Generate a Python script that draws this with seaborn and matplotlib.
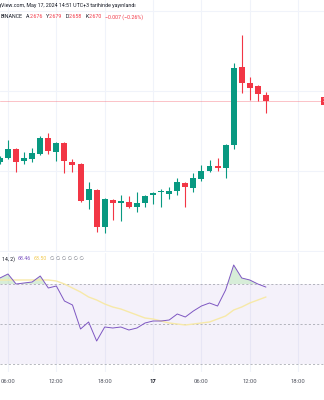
import numpy as np
import pandas as pd
import matplotlib
matplotlib.use("Agg")
import matplotlib.pyplot as plt
import seaborn as sns

# Hourly candles; hour 0 = 16 May 00:00 (UTC+3)
hours = list(range(5, 39))
opens = [2.609, 2.613, 2.622, 2.610, 2.612, 2.617, 2.633, 2.619, 2.628, 2.609,
         2.607, 2.571, 2.581, 2.544, 2.571, 2.568, 2.569, 2.564, 2.568, 2.576,
         2.579, 2.577, 2.580, 2.588, 2.583, 2.592, 2.600, 2.605, 2.603, 2.626,
         2.704, 2.688, 2.685, 2.676]
highs = [2.615, 2.631, 2.623, 2.619, 2.623, 2.635, 2.638, 2.629, 2.629, 2.612,
         2.608, 2.589, 2.582, 2.573, 2.572, 2.576, 2.575, 2.579, 2.576, 2.579,
         2.582, 2.584, 2.593, 2.589, 2.598, 2.606, 2.611, 2.613, 2.627, 2.708,
         2.736, 2.694, 2.686, 2.679]
lows = [2.607, 2.612, 2.599, 2.607, 2.609, 2.616, 2.617, 2.610, 2.598, 2.599,
        2.569, 2.562, 2.539, 2.538, 2.551, 2.550, 2.563, 2.559, 2.564, 2.567,
        2.564, 2.572, 2.576, 2.564, 2.579, 2.590, 2.599, 2.600, 2.593, 2.622,
        2.678, 2.671, 2.670, 2.658]
closes = [2.613, 2.622, 2.609, 2.613, 2.618, 2.633, 2.620, 2.628, 2.610, 2.606,
          2.570, 2.582, 2.544, 2.572, 2.568, 2.570, 2.564, 2.568, 2.575, 2.578,
          2.5795, 2.580, 2.589, 2.584, 2.593, 2.600, 2.605, 2.603, 2.626, 2.703,
          2.688, 2.683, 2.677, 2.670]

# RSI(14) and its moving average
rsi = [73.0, 75.0, 70.0, 70.5, 71.0, 74.0, 68.0, 69.0, 61.5, 59.5,
       47.5, 51.0, 41.5, 48.5, 48.0, 48.5, 47.0, 48.0, 50.5, 51.5,
       51.5, 52.0, 55.0, 53.5, 56.5, 59.0, 60.5, 59.0, 67.0, 79.5,
       73.0, 72.0, 70.0, 68.46]
rsi_ma = [72.0, 72.0, 72.0, 72.0, 72.0, 72.0, 72.0, 71.5, 70.0, 68.0,
          66.0, 63.5, 62.0, 60.0, 58.5, 57.5, 56.0, 54.5, 53.0, 52.5,
          51.5, 50.5, 50.0, 49.5, 50.0, 50.5, 51.0, 52.5, 54.0, 57.0,
          58.5, 60.5, 62.0, 63.50]

tick_hours = [6, 12, 18, 24, 30, 36, 42]
tick_labels = ["06:00", "12:00", "18:00", "17", "06:00", "12:00", "18:00"]

UP = "#089981"
DOWN = "#F23645"
RSI_COLOR = "#7E57C2"
MA_COLOR = "#F7E9A8"
TEXT = "#131722"
GRID = "#F0F3FA"
FS = 3.8

sns.set_theme(style="white")
plt.rcParams["font.family"] = ["Roboto", "DejaVu Sans"]

W, H = 324, 400
fig = plt.figure(figsize=(W / 100, H / 100), dpi=100)
fig.patch.set_facecolor("white")


def px_rect(x0, y0, x1, y1):
    return [x0 / W, 1 - y1 / H, (x1 - x0) / W, (y1 - y0) / H]


xlim = (6 + (0 - 8) / 8.06, 6 + (W - 8) / 8.06)

# ---- price pane ----
ax = fig.add_axes(px_rect(0, 0, W, 252))
ax.set_xlim(*xlim)
ax.set_ylim(2.519, 2.771)
for lvl in [2.52, 2.60, 2.68, 2.76]:
    ax.axhline(lvl, color=GRID, lw=0.8, zorder=0)
for t in tick_hours:
    ax.axvline(t, color=GRID, lw=0.8, zorder=0)

df = pd.DataFrame({"hour": hours, "open": opens, "high": highs,
                   "low": lows, "close": closes})
df["color"] = np.where(df["close"] >= df["open"], UP, DOWN)
body = (df["close"] - df["open"]).abs().clip(lower=0.0012)
bottom = df[["open", "close"]].min(axis=1)
ax.vlines(df["hour"], df["low"], df["high"], colors=df["color"], lw=0.8, zorder=2)
ax.bar(df["hour"], body, bottom=bottom, width=0.74, color=df["color"],
       linewidth=0, zorder=3)

last_close = closes[-1]
ax.axhline(last_close, color=DOWN, lw=0.7, alpha=0.3, zorder=1)
ax.set_axis_off()

# ---- RSI pane ----
ax2 = fig.add_axes(px_rect(0, 253, W, 372))
ax2.set_xlim(*xlim)
ax2.set_ylim(26, 85.5)
for t in tick_hours:
    ax2.axvline(t, color=GRID, lw=0.8, zorder=0)
ax2.axhspan(30, 70, color=RSI_COLOR, alpha=0.08, lw=0, zorder=0)
for lvl in [70, 50, 30]:
    ax2.axhline(lvl, color="#9598A1", lw=0.6, ls=(0, (2.5, 2.5)), alpha=0.8, zorder=1)

rsi_df = pd.DataFrame({"hour": hours, "RSI": rsi, "MA": rsi_ma})
r = np.array(rsi)
ax2.fill_between(hours, 70, r, where=r > 70, interpolate=True,
                 color="#4CAF50", alpha=0.22, lw=0, zorder=1)
sns.lineplot(data=rsi_df, x="hour", y="MA", ax=ax2, color=MA_COLOR, lw=1.0, zorder=2)
sns.lineplot(data=rsi_df, x="hour", y="RSI", ax=ax2, color=RSI_COLOR, lw=0.7, zorder=3)

ax2.set_xticks(tick_hours)
ax2.set_xticklabels(tick_labels)
ax2.set_yticks([])
ax2.set_xlabel("")
ax2.set_ylabel("")
ax2.tick_params(axis="x", length=0, pad=5, labelsize=4.2, labelcolor="#50535E")
ax2.get_xticklabels()[3].set_fontweight("bold")
ax2.get_xticklabels()[3].set_color(TEXT)
for s in ax2.spines.values():
    s.set_visible(False)

renderer = fig.canvas.get_renderer()


def ftext(x, y, s, **kw):
    return fig.text(x / W, 1 - y / H, s, va="center", **kw)


def text_run(x, y, pieces, fontsize=FS):
    # lay out coloured pieces one after another on a single line
    for s, color, gap in pieces:
        t = ftext(x, y, s, fontsize=fontsize, color=color)
        bb = t.get_window_extent(renderer)
        x = bb.x1 + gap


# header
ftext(136, 6, "TradingView.com, May 17, 2024 14:51 UTC+3 tarihinde yayınlandı",
      ha="right", fontsize=FS, color=TEXT)
text_run(0.5, 17, [("BINANCE", TEXT, 3.0),
                   ("A", TEXT, 0.3), ("2.676", DOWN, 3.0),
                   ("Y", TEXT, 0.3), ("2.679", DOWN, 3.0),
                   ("D", TEXT, 0.3), ("2.658", DOWN, 3.0),
                   ("K", TEXT, 0.3), ("2.670", DOWN, 3.0),
                   ("\u22120.007 (\u22120.26%)", DOWN, 0)])

# RSI legend
text_run(1.5, 259, [("14, 2)", TEXT, 3.0),
                    (f"{rsi[-1]:.2f}", RSI_COLOR, 3.0),
                    (f"{rsi_ma[-1]:.2f}", "#F2C94C", 3.0),
                    ("\u2205 \u2205 \u2205 \u2205 \u2205 \u2205", "#787B86", 0)])

# last price tag on the price scale
ftext(322.5, 101, "2.670", fontsize=FS, color="white",
      bbox=dict(boxstyle="square,pad=0.35", fc=DOWN, ec="none"))

fig.savefig("out.png", dpi=100)
